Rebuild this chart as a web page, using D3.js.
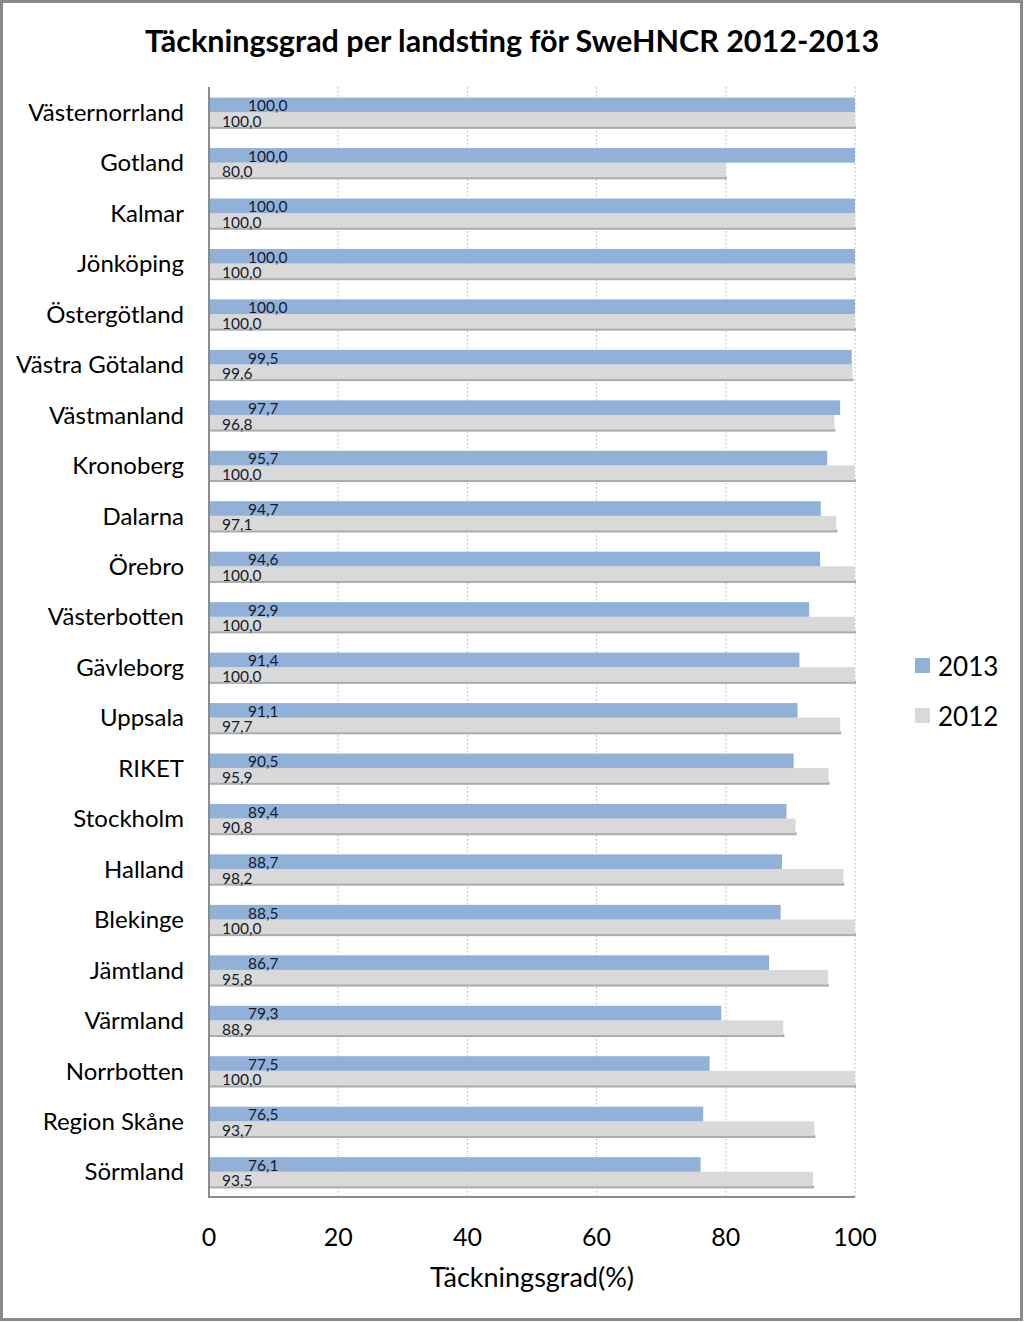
<!DOCTYPE html>
<html><head><meta charset="utf-8">
<script src="https://cdn.jsdelivr.net/npm/d3@7"></script>
<style>body{margin:0;background:#fff}svg{display:block}text{font-family:Lato,"Open Sans",sans-serif}</style>
</head><body><svg id="c" width="1024" height="1322"></svg>
<script>
const categories = ["Västernorrland","Gotland","Kalmar","Jönköping","Östergötland","Västra Götaland","Västmanland","Kronoberg","Dalarna","Örebro","Västerbotten","Gävleborg","Uppsala","RIKET","Stockholm","Halland","Blekinge","Jämtland","Värmland","Norrbotten","Region Skåne","Sörmland"];
const values2013 = [100.0,100.0,100.0,100.0,100.0,99.5,97.7,95.7,94.7,94.6,92.9,91.4,91.1,90.5,89.4,88.7,88.5,86.7,79.3,77.5,76.5,76.1];
const values2012 = [100.0,80.0,100.0,100.0,100.0,99.6,96.8,100.0,97.1,100.0,100.0,100.0,97.7,95.9,90.8,98.2,100.0,95.8,88.9,100.0,93.7,93.5];
const seriesNames = ["2013","2012"];
const xTicks = [0,20,40,60,80,100];
const colors = {"2013":"#92b1d8","2012":"#d9d9d9"};

const svg = d3.select("#c");
svg.append("rect").attr("x",1.5).attr("y",1.5).attr("width",1020).attr("height",1318)
  .attr("fill","#fff").attr("stroke","#8a8a8a").attr("stroke-width",3);

const L=209, R=855, T=87, B=1197;
const x = d3.scaleLinear().domain([0,100]).range([L,R]);
const y = d3.scaleBand().domain(categories).range([T,B]).paddingInner(0.42).paddingOuter(0.21);
const ys = d3.scaleBand().domain(seriesNames).range([0,y.bandwidth()]);

// title
svg.append("text").attr("x",512).attr("y",52).attr("text-anchor","middle")
  .attr("font-size",30.5).attr("font-weight","bold").attr("fill","#000")
  .text("Täckningsgrad per landsting för SweHNCR 2012-2013");

// gridlines
svg.append("g").selectAll("line").data(xTicks.filter(d=>d>0)).join("line")
  .attr("x1",d=>x(d)).attr("x2",d=>x(d)).attr("y1",T).attr("y2",B)
  .attr("stroke","#b5b5b5").attr("stroke-width",1).attr("stroke-dasharray","1.5,2.5");

const rows = categories.map((c,i)=>({c, v13:values2013[i], v12:values2012[i]}));
const g = svg.append("g");
// shadows for 2012 bars
g.selectAll("rect.sh").data(rows).join("rect").attr("class","sh")
  .attr("x",x(0)).attr("y",d=>y(d.c)+ys("2012")+ys.bandwidth()-1)
  .attr("width",d=>x(d.v12)-x(0)+1).attr("height",3).attr("fill","#ababab");
g.selectAll("rect.b12").data(rows).join("rect").attr("class","b12")
  .attr("x",x(0)).attr("y",d=>y(d.c)+ys("2012"))
  .attr("width",d=>x(d.v12)-x(0)).attr("height",ys.bandwidth()).attr("fill",colors["2012"]);
g.selectAll("rect.b13").data(rows).join("rect").attr("class","b13")
  .attr("x",x(0)).attr("y",d=>y(d.c)+ys("2013"))
  .attr("width",d=>x(d.v13)-x(0)).attr("height",ys.bandwidth()).attr("fill",colors["2013"]);

const fmt = v => v.toFixed(1).replace(".",",");
g.selectAll("text.l13").data(rows).join("text").attr("class","l13")
  .attr("x",x(0)+39).attr("y",d=>y(d.c)+ys("2013")+ys.bandwidth()-1)
  .attr("font-size",15.5).attr("fill","#141a2e").text(d=>fmt(d.v13));
g.selectAll("text.l12").data(rows).join("text").attr("class","l12")
  .attr("x",x(0)+13).attr("y",d=>y(d.c)+ys("2012")+ys.bandwidth())
  .attr("font-size",15.5).attr("fill","#141a2e").text(d=>fmt(d.v12));

// axes lines
svg.append("line").attr("x1",L).attr("x2",L).attr("y1",T).attr("y2",B+1).attr("stroke","#8c8c8c").attr("stroke-width",2);
svg.append("line").attr("x1",L).attr("x2",R).attr("y1",B).attr("y2",B).attr("stroke","#8c8c8c").attr("stroke-width",2);

// category labels
svg.append("g").selectAll("text").data(categories).join("text")
  .attr("x",184).attr("y",d=>y(d)+y.bandwidth()/2).attr("dy","0.36em")
  .attr("text-anchor","end").attr("font-size",24).attr("fill","#000").text(d=>d);

// x tick labels
svg.append("g").selectAll("text").data(xTicks).join("text")
  .attr("x",d=>x(d)).attr("y",1246).attr("text-anchor","middle")
  .attr("font-size",25).attr("fill","#000").text(d=>d);
svg.append("text").attr("x",(L+R)/2).attr("y",1287).attr("text-anchor","middle")
  .attr("font-size",27).attr("fill","#000").text("Täckningsgrad(%)");

// legend
const lg = svg.append("g").selectAll("g").data(seriesNames).join("g")
  .attr("transform",(d,i)=>`translate(915,${658+i*50})`);
lg.append("rect").attr("width",15).attr("height",15).attr("fill",d=>colors[d]);
lg.append("text").attr("x",23).attr("y",18).attr("font-size",26).attr("fill","#000").text(d=>d);
</script></body></html>
